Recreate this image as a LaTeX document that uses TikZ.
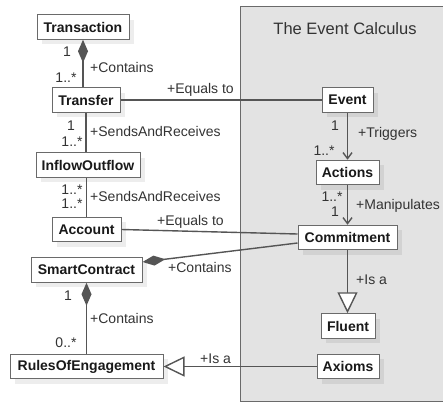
\documentclass[tikz,border=0pt]{standalone}
\usepackage{fontspec}
\setmainfont{Liberation Sans}
\usetikzlibrary{arrows.meta,calc,shadows}
\definecolor{linec}{HTML}{555555}
\definecolor{boxc}{HTML}{6A6A6A}
\definecolor{txtc}{HTML}{333333}
\definecolor{pkgfill}{HTML}{E3E3E3}
\tikzset{
  cls/.style={draw=boxc, line width=1pt, fill=white, inner sep=0pt,
    font=\fontsize{14}{16}\selectfont\bfseries, text=black!90,
    minimum height=24.5pt,
    drop shadow={shadow xshift=5pt, shadow yshift=-5pt, fill=black, opacity=0.07}},
  conn/.style={draw=linec, line width=1.4pt},
  lbl/.style={inner sep=0pt, font=\fontsize{14}{16}\selectfont, text=txtc},
  lblw/.style={lbl, anchor=west},
  comp/.style={{Diamond[length=23pt,width=10pt]}-},
  gen/.style={-{Triangle[open,length=21pt,width=20pt,fill=white]}},
  nav/.style={-{Straight Barb[length=6pt,width=9pt]}}
}
\begin{document}
\begin{tikzpicture}[x=1pt,y=-1pt]
\useasboundingbox (0,0) rectangle (443,403);
% package
\fill[pkgfill] (240,7) rectangle (443,401);
\draw[boxc, line width=1pt] (443,7) -- (240,7) -- (240,401) -- (443,401);
\node[font=\fontsize{16.5}{18}\selectfont, text=txtc] (title) at (345,29) {The Event Calculus};

% classes
\node[cls, minimum width=92pt] (Transaction) at (83,27) {Transaction};
\node[cls, minimum width=68pt] (Transfer) at (86,100) {Transfer};
\node[cls, minimum width=104pt] (Inflow) at (88,165) {InflowOutflow};
\node[cls, minimum width=69pt] (Account) at (86.5,229.5) {Account};
\node[cls, minimum width=111pt] (Smart) at (86.5,270) {SmartContract};
\node[cls, minimum width=153pt] (Rules) at (86.5,366.5) {RulesOfEngagement};
\node[cls, minimum width=51pt] (Event) at (347.5,100) {Event};
\node[cls, minimum width=63pt] (Actions) at (347.5,172.5) {Actions};
\node[cls, minimum width=99pt] (Commitment) at (347.5,237.5) {Commitment};
\node[cls, minimum width=54pt] (Fluent) at (348,326) {Fluent};
\node[cls, minimum width=62pt] (Axioms) at (348,366.5) {Axioms};

% connectors
\draw[conn, comp] (Transaction.south) -- (Transaction.south |- Transfer.north);
\draw[conn] (Transfer.east) -- (Event.west);
\draw[conn] (Transfer.south) -- (Transfer.south |- Inflow.north);
\draw[conn] (Account.north |- Inflow.south) -- (Account.north);
\draw[conn] (Account.east) -- ($(Commitment.west)+(0,-3.5)$);
\draw[conn, comp] ($(Smart.east)+(0,-8)$) -- ($(Commitment.west)+(0,5.5)$);
\draw[conn, comp] (Smart.south) -- (Smart.south |- Rules.north);
\draw[conn, gen] (Axioms.west) -- (Rules.east);
\draw[conn, nav] (Event.south) -- (Event.south |- Actions.north);
\draw[conn, nav] (Actions.south) -- (Actions.south |- Commitment.north);
\draw[conn, gen] (Commitment.south) -- (Commitment.south |- Fluent.north);

% labels
\node[lbl] (m1) at (67,52) {1};
\node[lblw] (r1) at (90,67) {+Contains};
\node[lbl] (m2) at (66,78) {1..*};
\node[lblw] (r2) at (167,90) {+Equals to};
\node[lbl] (m3) at (71,126) {1};
\node[lblw] (r3) at (90,131) {+SendsAndReceives};
\node[lbl] (m4) at (72,142) {1..*};
\node[lbl] (m5) at (72,190) {1..*};
\node[lblw] (r4) at (90,196) {+SendsAndReceives};
\node[lbl] (m6) at (72,204) {1..*};
\node[lblw] (r5) at (157,222) {+Equals to};
\node[lblw] (r6) at (168,267) {+Contains};
\node[lbl] (m7) at (68,296) {1};
\node[lblw] (r7) at (90,318) {+Contains};
\node[lbl] (m8) at (66,343) {0..*};
\node[lblw] (r8) at (200,359) {+Is a};
\node[lbl] (m9) at (335,126) {1};
\node[lblw] (r9) at (358,134) {+Triggers};
\node[lbl] (m10) at (324,151) {1..*};
\node[lbl] (m11) at (332,197) {1..*};
\node[lbl] (m12) at (335,212) {1};
\node[lblw] (r10) at (356,206) {+Manipulates};
\node[lblw] (r11) at (356,280) {+Is a};
\end{tikzpicture}
\end{document}
